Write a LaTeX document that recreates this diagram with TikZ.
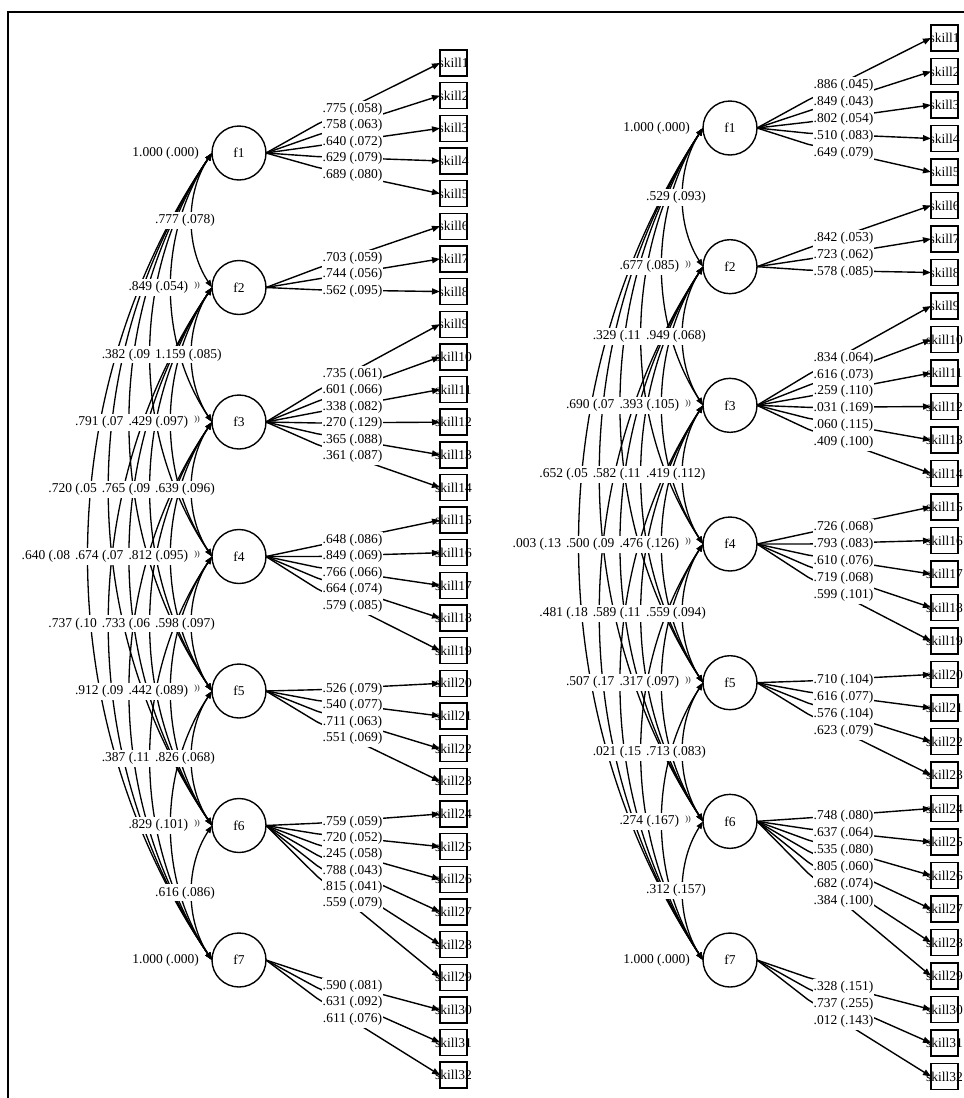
\documentclass[tikz,border=0pt]{standalone}
\usepackage{fontspec}
\setmainfont{Liberation Serif}
\usetikzlibrary{arrows.meta,calc}
\pgfdeclarelayer{edges}
\pgfdeclarelayer{labels}
\pgfsetlayers{edges,main,labels}

\tikzset{
  lbl/.style={fill=white, inner xsep=1pt, inner ysep=0pt, minimum height=17pt},
  load/.style={line width=1.4pt, -{Triangle[length=8pt,width=6pt]}},
  cov/.style={line width=1.3pt, {Triangle[length=7.5pt,width=5.5pt]}-{Triangle[length=7.5pt,width=5.5pt]}},
  factor/.style={circle, draw, line width=1.4pt, minimum size=54pt, inner sep=0pt, outer sep=0pt, fill=white},
  skillbox/.style={draw, line width=1.4pt, minimum width=27pt, minimum height=26pt, inner sep=0pt, outer sep=0pt},
  loops/.style={inner sep=0pt, font=\fontsize{8}{8}\selectfont},
}

\newcommand\trunc[1]{\makebox[53pt][l]{#1}}

% #1 prefix, #2 factor no, #3 factor x, #4 factor y, #5 first label y, #6 spacing, #7 list
\newcommand\loadset[7]{%
  \foreach \sk/\txt [count=\i from 0] in {#7} {%
    \pgfmathsetmacro\ly{#5+\i*#6}%
    \pgfmathsetmacro\fy{#4+0.65*(\ly-#4)}%
    \coordinate (#1b\sk) at (#3+78,\fy);%
    \draw[load] (#1f#2.east) -- (#1b\sk) -- (#1s\sk.west);%
    \begin{pgfonlayer}{labels}\node[lbl] (#1l\sk) at (#3+113.5,\ly) {\txt};\end{pgfonlayer}%
  }%
}

% #1 prefix, #2 i, #3 j, #4 xoff, #5 y0, #6 spacing, #7 text
\newcommand\covar[7]{%
  \pgfmathsetmacro\dd{#3-#2}%
  \pgfmathsetmacro\yi{#5+(#2-1)*#6}%
  \pgfmathsetmacro\yj{#5+(#3-1)*#6}%
  \pgfmathsetmacro\ym{(\yi+\yj)/2}%
  \pgfmathsetmacro\cx{(192+#4-20.7*(\dd-1)-0.25*(212+#4))/0.75}%
  \pgfmathsetmacro\cya{\yi+0.3*(\yj-\yi)}%
  \pgfmathsetmacro\cyb{\yj-0.3*(\yj-\yi)}%
  \pgfmathsetmacro\lx{155+#4-26.7*(\dd-1)-1}%
  \begin{pgfonlayer}{edges}\draw[cov] (#1f#2.west) .. controls (\cx,\cya) and (\cx,\cyb) .. (#1f#3.west);\end{pgfonlayer}%
  \begin{pgfonlayer}{labels}\node[lbl,anchor=west] (#1c#2#3) at (\lx,\ym) {#7};\end{pgfonlayer}%
}

\begin{document}
\begin{tikzpicture}[x=1pt,y=-1pt,font=\fontsize{13.5}{15}\selectfont]
\useasboundingbox (0,0) rectangle (964,1098);
\draw[line width=1.4pt] (964,12) -- (8,12) -- (8,1098);

% ---------- nodes ----------
\foreach \k in {1,...,7} {
  \node[factor] (Lf\k) at (239,{153+134.5*(\k-1)}) {f\k};
  \node[factor] (Rf\k) at (730,{128+138.67*(\k-1)}) {f\k};
}
\foreach \k in {1,...,32} {
  \node[skillbox] (Ls\k) at (453.5,{63+32.65*(\k-1)}) {\makebox[0pt]{skill\k}};
  \node[skillbox] (Rs\k) at (944.5,{38+33.5*(\k-1)}) {\makebox[0pt]{skill\k}};
}

% ---------- loadings, left ----------
\loadset{L}{1}{239}{153}{109}{16.5}{1/.775 (.058),2/.758 (.063),3/.640 (.072),4/.629 (.079),5/.689 (.080)}
\loadset{L}{2}{239}{287.5}{258}{16.5}{6/.703 (.059),7/.744 (.056),8/.562 (.095)}
\loadset{L}{3}{239}{422}{374}{16.5}{9/.735 (.061),10/.601 (.066),11/.338 (.082),12/.270 (.129),13/.365 (.088),14/.361 (.087)}
\loadset{L}{4}{239}{556.5}{540}{16.5}{15/.648 (.086),16/.849 (.069),17/.766 (.066),18/.664 (.074),19/.579 (.085)}
\loadset{L}{5}{239}{691}{689}{16.5}{20/.526 (.079),21/.540 (.077),22/.711 (.063),23/.551 (.069)}
\loadset{L}{6}{239}{825.5}{822}{16.3}{24/.759 (.059),25/.720 (.052),26/.245 (.058),27/.788 (.043),28/.815 (.041),29/.559 (.079)}
\loadset{L}{7}{239}{960}{986}{16.5}{30/.590 (.081),31/.631 (.092),32/.611 (.076)}

% ---------- loadings, right ----------
\loadset{R}{1}{730}{128}{85}{17}{1/.886 (.045),2/.849 (.043),3/.802 (.054),4/.510 (.083),5/.649 (.079)}
\loadset{R}{2}{730}{266.67}{238}{17}{6/.842 (.053),7/.723 (.062),8/.578 (.085)}
\loadset{R}{3}{730}{405.33}{358}{16.8}{9/.834 (.064),10/.616 (.073),11/.259 (.110),12/.031 (.169),13/.060 (.115),14/.409 (.100)}
\loadset{R}{4}{730}{544}{527}{17}{15/.726 (.068),16/.793 (.083),17/.610 (.076),18/.719 (.068),19/.599 (.101)}
\loadset{R}{5}{730}{682.67}{680}{17}{20/.710 (.104),21/.616 (.077),22/.576 (.104),23/.623 (.079)}
\loadset{R}{6}{730}{821.33}{816}{17}{24/.748 (.080),25/.637 (.064),26/.535 (.080),27/.805 (.060),28/.682 (.074),29/.384 (.100)}
\loadset{R}{7}{730}{960}{987}{17}{30/.328 (.151),31/.737 (.255),32/.012 (.143)}

% ---------- covariances, left ----------
\covar{L}{1}{7}{0}{153}{134.5}{\trunc{.640 (.08}}
\covar{L}{1}{6}{0}{153}{134.5}{\trunc{.720 (.05}}
\covar{L}{2}{7}{0}{153}{134.5}{\trunc{.737 (.10}}
\covar{L}{1}{5}{0}{153}{134.5}{\trunc{.791 (.07}}
\covar{L}{2}{6}{0}{153}{134.5}{\trunc{.674 (.07}}
\covar{L}{3}{7}{0}{153}{134.5}{\trunc{.912 (.09}}
\covar{L}{1}{4}{0}{153}{134.5}{\trunc{.382 (.09}}
\covar{L}{2}{5}{0}{153}{134.5}{\trunc{.765 (.09}}
\covar{L}{3}{6}{0}{153}{134.5}{\trunc{.733 (.06}}
\covar{L}{4}{7}{0}{153}{134.5}{\trunc{.387 (.11}}
\covar{L}{1}{3}{0}{153}{134.5}{.849 (.054)}
\covar{L}{2}{4}{0}{153}{134.5}{.429 (.097)}
\covar{L}{3}{5}{0}{153}{134.5}{.812 (.095)}
\covar{L}{4}{6}{0}{153}{134.5}{.442 (.089)}
\covar{L}{5}{7}{0}{153}{134.5}{.829 (.101)}
\covar{L}{1}{2}{0}{153}{134.5}{.777 (.078)}
\covar{L}{2}{3}{0}{153}{134.5}{1.159 (.085)}
\covar{L}{3}{4}{0}{153}{134.5}{.639 (.096)}
\covar{L}{4}{5}{0}{153}{134.5}{.598 (.097)}
\covar{L}{5}{6}{0}{153}{134.5}{.826 (.068)}
\covar{L}{6}{7}{0}{153}{134.5}{.616 (.086)}

% ---------- covariances, right ----------
\covar{R}{1}{7}{491}{128}{138.67}{\trunc{.003 (.13}}
\covar{R}{1}{6}{491}{128}{138.67}{\trunc{.652 (.05}}
\covar{R}{2}{7}{491}{128}{138.67}{\trunc{.481 (.18}}
\covar{R}{1}{5}{491}{128}{138.67}{\trunc{.690 (.07}}
\covar{R}{2}{6}{491}{128}{138.67}{\trunc{.500 (.09}}
\covar{R}{3}{7}{491}{128}{138.67}{\trunc{.507 (.17}}
\covar{R}{1}{4}{491}{128}{138.67}{\trunc{.329 (.11}}
\covar{R}{2}{5}{491}{128}{138.67}{\trunc{.582 (.11}}
\covar{R}{3}{6}{491}{128}{138.67}{\trunc{.589 (.11}}
\covar{R}{4}{7}{491}{128}{138.67}{\trunc{.021 (.15}}
\covar{R}{1}{3}{491}{128}{138.67}{.677 (.085)}
\covar{R}{2}{4}{491}{128}{138.67}{.393 (.105)}
\covar{R}{3}{5}{491}{128}{138.67}{.476 (.126)}
\covar{R}{4}{6}{491}{128}{138.67}{.317 (.097)}
\covar{R}{5}{7}{491}{128}{138.67}{.274 (.167)}
\covar{R}{1}{2}{491}{128}{138.67}{.529 (.093)}
\covar{R}{2}{3}{491}{128}{138.67}{.949 (.068)}
\covar{R}{3}{4}{491}{128}{138.67}{.419 (.112)}
\covar{R}{4}{5}{491}{128}{138.67}{.559 (.094)}
\covar{R}{5}{6}{491}{128}{138.67}{.713 (.083)}
\covar{R}{6}{7}{491}{128}{138.67}{.312 (.157)}

% ---------- variance labels ----------
\begin{pgfonlayer}{labels}
\node[lbl,anchor=east] (Lv1) at (200,153) {1.000 (.000)};
\node[lbl,anchor=east] (Lv7) at (200,960) {1.000 (.000)};
\node[lbl,anchor=east] (Rv1) at (691,128) {1.000 (.000)};
\node[lbl,anchor=east] (Rv7) at (691,960) {1.000 (.000)};
\foreach \k in {2,...,6} {
  \node[loops] (Lo\k) at (197,{153+134.5*(\k-1)-2}) {))};
  \node[loops] (Ro\k) at (688,{128+138.67*(\k-1)-2}) {))};
}
\end{pgfonlayer}
\end{tikzpicture}
\end{document}
